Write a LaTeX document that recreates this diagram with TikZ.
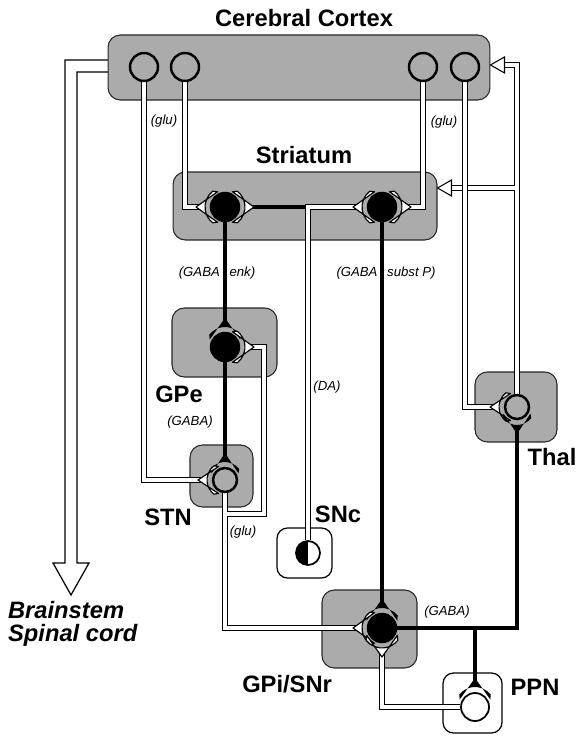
\documentclass[tikz,border=0pt]{standalone}
\usepackage{fontspec}
\setmainfont{Liberation Sans}
\usepackage{tikz}
\usetikzlibrary{positioning, backgrounds}

\begin{document}
\begin{tikzpicture}[
    x=0.02cm, y=-0.02cm,
    area/.style  = {draw=black!85, fill=black!33, rounded corners=7pt,
                    line width=0.6pt, inner sep=0pt},
    wbox/.style  = {draw=black, fill=white, rounded corners=6pt,
                    line width=0.7pt, inner sep=0pt},
    nrn/.style   = {circle, draw=black, line width=1.4pt, inner sep=0pt,
                    minimum size=0.56cm},
    snrn/.style  = {nrn, minimum size=0.48cm},
    axb/.style   = {line width=2.6pt, black},
    axg/.style   = {draw=black, line width=0.55pt, double=white,
                    double distance=1.8pt},
    lbl/.style   = {font=\fontsize{13.5}{13}\selectfont\bfseries, inner sep=1pt},
    tx/.style    = {font=\fontsize{7.5}{9}\selectfont\itshape, inner sep=1pt},
    pics/synb/.style = {code={
        \fill[black] ({#1+14},0) -- (64:{#1+2}) -- (52:{#1+5})
            arc[start angle=52, end angle=-52, radius=#1+5] -- (-64:{#1+2}) -- cycle;
        \coordinate (-tip) at ({#1+11},0);
    }},
    pics/synw/.style = {code={
        \filldraw[fill=white, draw=black, line width=0.65pt, line join=round]
            ({#1+14},0) -- (64:{#1+2}) -- (52:{#1+5})
            arc[start angle=52, end angle=-52, radius=#1+5] -- (-64:{#1+2}) -- cycle;
        \coordinate (-tip) at ({#1+11},0);
    }},
    pics/harr/.style = {code={
        \filldraw[fill=white, draw=black, line width=0.6pt] (0,0) -- (-14,8) -- (-14,-8) -- cycle;
        \coordinate (-base) at (-13,0);
    }},
  ]
    \useasboundingbox (0,0) rectangle (579,736);

    %% ── Areas ───────────────────────────────────────────────────────────────
    \begin{scope}[on background layer]
    \draw[line width=0.7pt, fill=white]
        (108,60) -| (65,563) -- (53,563) -- (71,595) -- (89,563) -- (77,563) |- (108,72);
    \node[area, minimum width=7.64cm, minimum height=1.3cm]  (ctx)  at (299,67.5)   {};
    \node[area, minimum width=5.28cm, minimum height=1.36cm] (str)  at (305,206)    {};
    \node[area, minimum width=2.1cm,  minimum height=1.38cm] (gpe)  at (224.5,342.5) {};
    \node[area, minimum width=1.26cm, minimum height=1.24cm] (stn)  at (221.5,476)  {};
    \node[area, minimum width=1.64cm, minimum height=1.4cm]  (thal) at (516,407)    {};
    \node[area, minimum width=1.9cm,  minimum height=1.56cm] (gpi)  at (369.5,629)  {};
    \node[wbox, minimum width=1.1cm,  minimum height=1.0cm]  (snc)  at (304.5,553)  {};
    \node[wbox, minimum width=1.18cm, minimum height=1.2cm]  (ppn)  at (472.5,703)  {};
    \end{scope}

    %% ── Neurons ─────────────────────────────────────────────────────────────
    \node[nrn, fill=black!33] (ctx1) at (144,67) {};
    \node[nrn, fill=black!33] (ctx2) at (185,67) {};
    \node[nrn, fill=black!33] (ctx3) at (423,67) {};
    \node[nrn, fill=black!33] (ctx4) at (465,67) {};
    \node[nrn, fill=black]    (str1) at (225,207) {};
    \node[nrn, fill=black]    (str2) at (382,207) {};
    \node[nrn, fill=black]    (gpe1) at (225,347) {};
    \node[snrn, fill=black!33] (stn1) at (225,480) {};
    \node[snrn, fill=black!33] (thal1) at (517,407) {};
    \node[nrn, fill=black]    (gpi1) at (382,628) {};
    \node[nrn, fill=white, line width=1pt] (ppn1) at (475,707) {};
    \node[snrn, fill=white, line width=1pt,
          path picture={\fill[black] (path picture bounding box.north)
                        rectangle (path picture bounding box.south west);}]
          (snc1) at (308,553) {};

    %% ── Synapses ────────────────────────────────────────────────────────────
    \pic[rotate=180] (fs1c)  at (str1)  {synw=15};
    \pic[rotate=0]   (fs1d)  at (str1)  {synw=15};
    \pic[rotate=180] (fs2d)  at (str2)  {synw=15};
    \pic[rotate=0]   (fs2c)  at (str2)  {synw=15};
    \pic[rotate=90]  (fgpes) at (gpe1)  {synb=15};
    \pic[rotate=0]   (fgpen) at (gpe1)  {synw=15};
    \pic[rotate=90]  (fstng) at (stn1)  {synb=13};
    \pic[rotate=180] (fstnc) at (stn1)  {synw=13};
    \pic[rotate=180] (fthc)  at (thal1) {synw=13};
    \pic[rotate=270] (fthg)  at (thal1) {synb=13};
    \pic[rotate=90]  (fgpis) at (gpi1)  {synb=15};
    \pic[rotate=180] (fgpin) at (gpi1)  {synw=15};
    \pic[rotate=270] (fgpip) at (gpi1)  {synw=15};
    \pic[rotate=90]  (fppg)  at (ppn1)  {synb=15};
    \pic[rotate=180] (acx)   at (ctx.east |- 0,65)  {harr};
    \pic[rotate=180] (ast)   at (str.east |- 0,188) {harr};

    \coordinate (stnbr)   at (stn1 |- 0,514);
    \coordinate (stnloop) at (264,514);

    %% ── Projections ─────────────────────────────────────────────────────────
    \begin{scope}[on background layer]
    %% cortex -> STN, striatum
    \draw[axg] (ctx1.south) |- (fstnc-tip);
    \draw[axg] (ctx2.south) |- (fs1c-tip);
    \draw[axg] (ctx3.south) |- (fs2c-tip);
    %% thalamus back to cortex and striatum
    \draw[axg] (thal1.north) |- (acx-base) (thal1.north |- ast-base) -- (ast-base);
    \draw[axg] (ctx4.south) |- (fthc-tip);
    %% striatum -> GPe, GPi ; GPe -> STN
    \draw[axb] (str1.south) -- (fgpes-tip);
    \draw[axb] (str2.south) -- (fgpis-tip);
    \draw[axb] (gpe1.south) -- (fstng-tip);
    %% STN -> GPi, GPe
    \draw[axg] (stn1.south) |- (fgpin-tip) (stnbr) -- (stnloop) |- (fgpen-tip);
    %% SNc dopamine to striatum
    \draw[axb] (snc1.north |- fs1d-tip) -- (fs1d-tip);
    \draw[axg] (snc1.north) |- (fs2d-tip);
    %% GPi -> thalamus, PPN ; PPN -> GPi
    \draw[axb] (gpi1.east) -| (fthg-tip) (gpi1.east -| fppg-tip) -- (fppg-tip);
    \draw[axg] (ppn1.west) -| (fgpip-tip);
    \end{scope}

    %% ── Labels ──────────────────────────────────────────────────────────────
    \node[lbl] (lctx)  at (304,18)  {Cerebral Cortex};
    \node[lbl] (lstr)  at (304,155) {Striatum};
    \node[lbl] (lgpe)  at (179,394) {GPe};
    \node[lbl] (lstn)  at (168,517) {STN};
    \node[lbl] (lsnc)  at (338,514) {SNc};
    \node[lbl] (lthal) at (552,457) {Thal};
    \node[lbl, anchor=east] (lgpi) at (334,684) {GPi/SNr};
    \node[lbl] (lppn)  at (535,687) {PPN};
    \node[lbl, font=\fontsize{13.5}{13}\selectfont\bfseries\itshape,
          align=left, anchor=west] (lbs) at (6,624) {Brainstem\\Spinal cord};

    \node[tx] (tglu1)  at (164,121) {(glu)};
    \node[tx] (tglu2)  at (444,122) {(glu)};
    \node[tx] (tglu3)  at (243,532) {(glu)};
    \node[tx] (tenk)   at (217,273) {(GABA\hspace{5.5pt}enk)};
    \node[tx] (tsubp)  at (386,273) {(GABA\hspace{5.5pt}subst P)};
    \node[tx] (tda)    at (327,387) {(DA)};
    \node[tx] (tgaba1) at (190,422) {(GABA)};
    \node[tx] (tgaba2) at (447,612) {(GABA)};

  \end{tikzpicture}
\end{document}
